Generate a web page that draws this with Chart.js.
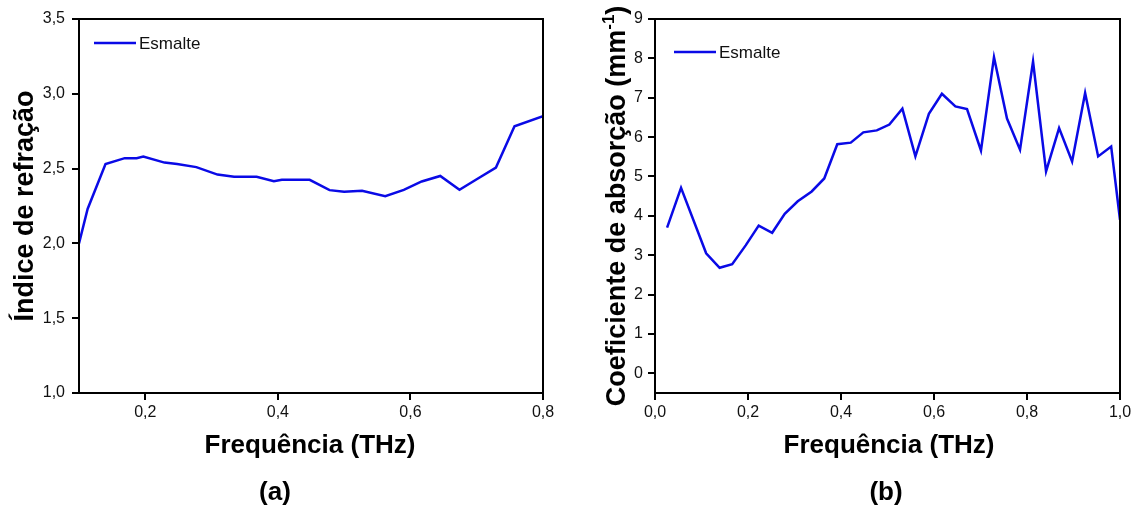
<!DOCTYPE html>
<html>
<head>
<meta charset="utf-8">
<script src="https://cdn.jsdelivr.net/npm/chart.js@4.4.1/dist/chart.umd.min.js"></script>
<style>
  html, body { margin: 0; padding: 0; background: #fff; }
  #wrap { position: relative; width: 1137px; height: 510px; overflow: hidden; }
  canvas { position: absolute; top: 0; }
  #chartA { left: 0; }
  #chartB { left: 568px; }
</style>
</head>
<body>
<div id="wrap">
  <canvas id="chartA" width="568" height="510"></canvas>
  <canvas id="chartB" width="569" height="510"></canvas>
</div>
<script>
// ---- (a) refractive index of enamel ----
const freqA = [0.100, 0.113, 0.140, 0.169, 0.187, 0.197, 0.229, 0.248, 0.277, 0.309,
               0.334, 0.368, 0.394, 0.406, 0.448, 0.478, 0.500, 0.527, 0.562, 0.590,
               0.617, 0.645, 0.674, 0.700, 0.729, 0.757, 0.800];
const indiceA = [2.00, 2.23, 2.53, 2.57, 2.57, 2.58, 2.54, 2.53, 2.51, 2.46,
                 2.445, 2.445, 2.415, 2.425, 2.425, 2.356, 2.345, 2.352, 2.316, 2.358,
                 2.414, 2.451, 2.358, 2.429, 2.507, 2.783, 2.85];
const xTicksA = [0.2, 0.4, 0.6, 0.8];
const xLabelsA = ['0,2', '0,4', '0,6', '0,8'];
const yTicksA = [1.0, 1.5, 2.0, 2.5, 3.0, 3.5];
const yLabelsA = ['1,0', '1,5', '2,0', '2,5', '3,0', '3,5'];

// ---- (b) absorption coefficient of enamel ----
const freqB = [0.026, 0.056, 0.110, 0.139, 0.166, 0.195, 0.223, 0.252, 0.279, 0.307,
               0.337, 0.364, 0.392, 0.421, 0.448, 0.477, 0.504, 0.532, 0.560, 0.589,
               0.617, 0.646, 0.671, 0.701, 0.729, 0.757, 0.785, 0.813, 0.841, 0.869,
               0.897, 0.925, 0.953, 0.981, 1.000];
const absorB = [3.70, 4.71, 3.05, 2.68, 2.77, 3.25, 3.75, 3.57, 4.05, 4.37,
                4.62, 4.95, 5.82, 5.86, 6.12, 6.17, 6.32, 6.72, 5.51, 6.59,
                7.10, 6.78, 6.71, 5.66, 8.03, 6.47, 5.68, 7.92, 5.13, 6.23,
                5.38, 7.12, 5.51, 5.76, 3.90];
const xTicksB = [0.0, 0.2, 0.4, 0.6, 0.8, 1.0];
const xLabelsB = ['0,0', '0,2', '0,4', '0,6', '0,8', '1,0'];
const yTicksB = [0, 1, 2, 3, 4, 5, 6, 7, 8, 9];
const yLabelsB = ['0', '1', '2', '3', '4', '5', '6', '7', '8', '9'];

const seriesName = 'Esmalte';
const xTitle = 'Frequência (THz)';

const FONT = '"Liberation Sans", Arial, Helvetica, sans-serif';
const LINE_BLUE = '#0a0ae6';
const INK = '#111';

// Full black frame round the plot area
const framePlugin = {
  id: 'frame',
  afterDatasetsDraw(chart) {
    const { ctx, chartArea: a } = chart;
    ctx.save();
    ctx.strokeStyle = '#000';
    ctx.lineWidth = 2;
    ctx.strokeRect(a.left, a.top, a.right - a.left, a.bottom - a.top);
    ctx.restore();
  }
};

// Legend sample, axis titles and panel letter
const annotatePlugin = {
  id: 'annotate',
  afterDraw(chart, args, o) {
    const { ctx, chartArea: a } = chart;
    const ds = chart.data.datasets[0];
    ctx.save();
    // legend
    ctx.strokeStyle = ds.borderColor;
    ctx.lineWidth = 2.5;
    ctx.beginPath();
    ctx.moveTo(a.left + o.legendX, a.top + o.legendY);
    ctx.lineTo(a.left + o.legendX + 42, a.top + o.legendY);
    ctx.stroke();
    ctx.fillStyle = INK;
    ctx.font = '17px ' + FONT;
    ctx.textBaseline = 'middle';
    ctx.textAlign = 'left';
    ctx.fillText(ds.label, a.left + o.legendX + 45, a.top + o.legendY + 1);

    // x title
    ctx.fillStyle = '#000';
    ctx.font = 'bold 26px ' + FONT;
    ctx.textAlign = 'center';
    ctx.fillText(o.xTitle, o.xTitleX, o.xTitleY);

    // panel letter
    ctx.fillText(o.panel, o.panelX, o.panelY);

    // y title (rotated), optional superscript part
    ctx.translate(o.yTitleX, o.yTitleY);
    ctx.rotate(-Math.PI / 2);
    const big = 'bold 27px ' + FONT;
    const small = 'bold 17px ' + FONT;
    ctx.font = big;
    const wMain = ctx.measureText(o.yTitle).width;
    let wSup = 0, wTail = 0;
    if (o.ySup) {
      ctx.font = small;
      wSup = ctx.measureText(o.ySup).width;
      ctx.font = big;
      wTail = ctx.measureText(o.yTail).width;
    }
    const total = wMain + wSup + wTail;
    let x0 = -total / 2;
    ctx.textAlign = 'left';
    ctx.font = big;
    ctx.fillText(o.yTitle, x0, 0);
    if (o.ySup) {
      ctx.font = small;
      ctx.fillText(o.ySup, x0 + wMain, -9);
      ctx.font = big;
      ctx.fillText(o.yTail, x0 + wMain + wSup, 0);
    }
    ctx.restore();
  }
};

function fixedTicks(values) {
  return function (scale) {
    scale.ticks = values.map(v => ({ value: v }));
  };
}

function makeChart(canvasId, cfg) {
  return new Chart(document.getElementById(canvasId), {
    type: 'line',
    data: {
      datasets: [{
        label: seriesName,
        data: cfg.xs.map((x, i) => ({ x: x, y: cfg.ys[i] })),
        borderColor: LINE_BLUE,
        borderWidth: 2.5,
        pointRadius: 0,
        tension: 0,
        fill: false
      }]
    },
    options: {
      responsive: false,
      animation: false,
      devicePixelRatio: 1,
      layout: { padding: { top: 19, right: cfg.padRight, left: 0, bottom: 0 } },
      plugins: {
        legend: { display: false },
        tooltip: { enabled: false },
        annotate: cfg.annotate
      },
      scales: {
        x: {
          type: 'linear',
          min: cfg.xMin, max: cfg.xMax,
          afterBuildTicks: fixedTicks(cfg.xTicks),
          afterFit: s => { s.height = 117; },
          border: { display: false },
          grid: { drawOnChartArea: false, drawTicks: true, tickLength: 7, color: '#000', lineWidth: 2 },
          ticks: {
            autoSkip: false, maxRotation: 0, padding: 3,
            color: INK, font: { family: FONT, size: 16 },
            callback: (v, i) => cfg.xLabels[i]
          }
        },
        y: {
          type: 'linear',
          min: cfg.yMin, max: cfg.yMax,
          afterBuildTicks: fixedTicks(cfg.yTicks),
          afterFit: s => { s.width = cfg.yAxisWidth; },
          border: { display: false },
          grid: { drawOnChartArea: false, drawTicks: true, tickLength: 7, color: '#000', lineWidth: 2 },
          ticks: {
            autoSkip: false, padding: cfg.yPad,
            color: INK, font: { family: FONT, size: 16 },
            callback: (v, i) => cfg.yLabels[i]
          }
        }
      }
    },
    plugins: [framePlugin, annotatePlugin]
  });
}

makeChart('chartA', {
  xs: freqA, ys: indiceA,
  xMin: 0.1, xMax: 0.8, yMin: 1.0, yMax: 3.5,
  xTicks: xTicksA, xLabels: xLabelsA, yTicks: yTicksA, yLabels: yLabelsA,
  yAxisWidth: 79, padRight: 25, yPad: 7,
  annotate: {
    legendX: 15, legendY: 24,
    xTitle: xTitle, xTitleX: 310, xTitleY: 446,
    panel: '(a)', panelX: 275, panelY: 493,
    yTitle: 'Índice de refração', yTitleX: 26, yTitleY: 206
  }
});

makeChart('chartB', {
  xs: freqB, ys: absorB,
  xMin: 0.0, xMax: 1.0, yMin: -0.5, yMax: 9,
  xTicks: xTicksB, xLabels: xLabelsB, yTicks: yTicksB, yLabels: yLabelsB,
  yAxisWidth: 87, padRight: 17, yPad: 5,
  annotate: {
    legendX: 19, legendY: 33,
    xTitle: xTitle, xTitleX: 321, xTitleY: 446,
    panel: '(b)', panelX: 318, panelY: 493,
    yTitle: 'Coeficiente de absorção (mm', ySup: '-1', yTail: ')',
    yTitleX: 50, yTitleY: 206
  }
});
</script>
</body>
</html>
